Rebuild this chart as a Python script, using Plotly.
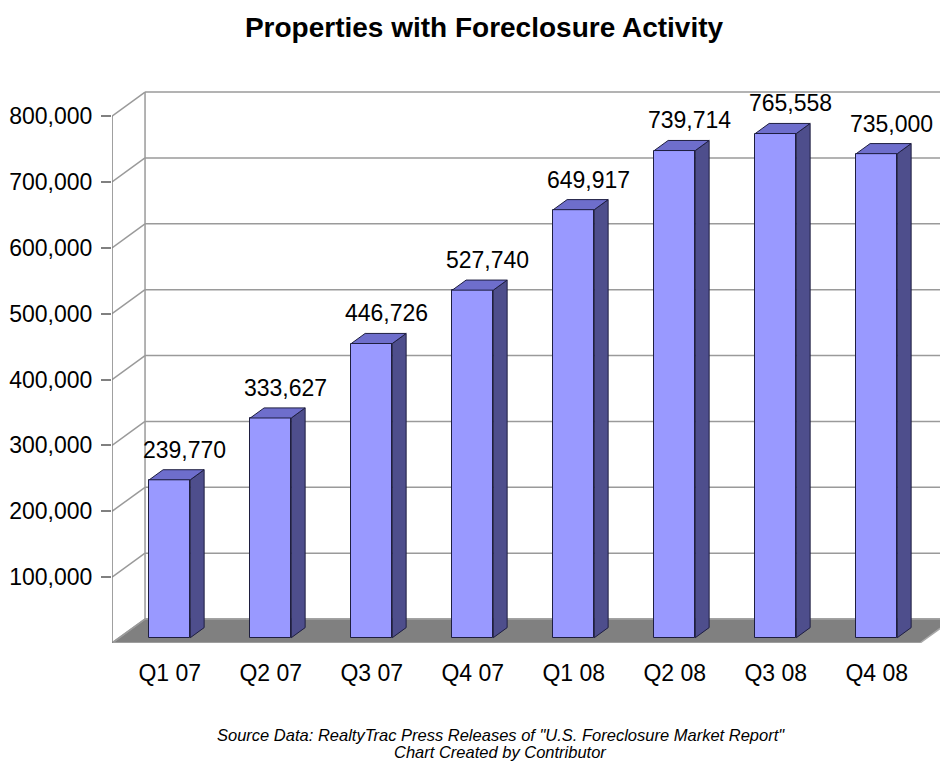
import plotly.graph_objects as go

# ---------------- data ----------------
categories = ["Q1 07", "Q2 07", "Q3 07", "Q4 07", "Q1 08", "Q2 08", "Q3 08", "Q4 08"]
values = [239770, 333627, 446726, 527740, 649917, 739714, 765558, 735000]
value_labels = ["239,770", "333,627", "446,726", "527,740", "649,917", "739,714", "765,558", "735,000"]
ytick_values = [100000, 200000, 300000, 400000, 500000, 600000, 700000, 800000]
ytick_labels = ["100,000", "200,000", "300,000", "400,000", "500,000", "600,000", "700,000", "800,000"]

title_text = "Properties with Foreclosure Activity"
source_line1 = 'Source Data: RealtyTrac Press Releases of "U.S. Foreclosure Market Report"'
source_line2 = "Chart Created by Contributor"

# ---------------- 3D look parameters (style) ----------------
FONT = "Liberation Sans, Arial, sans-serif"
DX = 0.327          # depth offset along x (category units)
DY = 36440          # depth offset along y (value units)
F_FRONT = 0.22      # bar front face depth fraction
F_BACK = 0.64       # bar back face depth fraction
BAR_W = 0.406
X_LEFT = -0.5
X_RIGHT = len(categories) - 0.5
X_MAX = -0.5 + 836 / 101
Y_MAX = 838140
WALL_MAX = ytick_values[-1]

# the page adds an 8px body margin, so the figure is 8px smaller
FIG_W, FIG_H = 940, 755

GRID = "#9a9a9a"
FRONT_C = "#9999FF"
SIDE_C = "#4E4E8C"
TOP_C = "#6E6ECC"
EDGE_C = "#1E1E40"

fig = go.Figure()

shapes = []
# floor
shapes.append(dict(type="path", xref="x", yref="y", layer="below",
                   path=f"M {X_LEFT},0 L {X_RIGHT},0 L {X_RIGHT + DX},{DY} L {X_LEFT + DX},{DY} Z",
                   fillcolor="#808080", line=dict(color="#a8a8a8", width=1.5)))
# back wall gridlines and left wall diagonals
for v in [0] + ytick_values:
    shapes.append(dict(type="line", xref="x", yref="y", layer="below",
                       x0=X_LEFT + DX, x1=X_MAX + 1, y0=v + DY, y1=v + DY,
                       line=dict(color=GRID, width=1.5)))
    shapes.append(dict(type="line", xref="x", yref="y", layer="below",
                       x0=X_LEFT, x1=X_LEFT + DX, y0=v, y1=v + DY,
                       line=dict(color=GRID, width=1.5)))
# back wall left edge
shapes.append(dict(type="line", xref="x", yref="y", layer="below",
                   x0=X_LEFT + DX, x1=X_LEFT + DX, y0=DY, y1=WALL_MAX + DY,
                   line=dict(color=GRID, width=1.5)))
# front value axis line
shapes.append(dict(type="line", xref="x", yref="y", layer="below",
                   x0=X_LEFT, x1=X_LEFT, y0=0, y1=WALL_MAX,
                   line=dict(color="#808080", width=1.5)))

# bars: front faces
base = F_FRONT * DY
xs_front = [i + F_FRONT * DX for i in range(len(categories))]
fig.add_trace(go.Bar(x=xs_front, y=values, base=[base] * len(values), width=BAR_W,
                     marker=dict(color=FRONT_C, line=dict(color=EDGE_C, width=1)),
                     hoverinfo="skip", showlegend=False))

sdx = (F_BACK - F_FRONT) * DX
sdy = (F_BACK - F_FRONT) * DY
for i, v in enumerate(values):
    xl = xs_front[i] - BAR_W / 2
    xr = xs_front[i] + BAR_W / 2
    top = base + v
    # side face
    fig.add_trace(go.Scatter(x=[xr, xr + sdx, xr + sdx, xr, xr],
                             y=[base, base + sdy, top + sdy, top, base],
                             mode="lines", fill="toself", fillcolor=SIDE_C,
                             line=dict(color=EDGE_C, width=1), hoverinfo="skip", showlegend=False))
    # top face
    fig.add_trace(go.Scatter(x=[xl, xr, xr + sdx, xl + sdx, xl],
                             y=[top, top, top + sdy, top + sdy, top],
                             mode="lines", fill="toself", fillcolor=TOP_C,
                             line=dict(color=EDGE_C, width=1), hoverinfo="skip", showlegend=False))

annotations = []
for i, v in enumerate(values):
    annotations.append(dict(x=xs_front[i] + 0.15, y=base + v + sdy, xref="x", yref="y",
                            text=value_labels[i], showarrow=False, yanchor="bottom",
                            yshift=5, font=dict(family=FONT, size=23, color="#000")))

annotations.append(dict(x=0.4653, y=-0.1667, xref="paper", yref="paper", text=f"<i>{source_line1}</i>",
                        showarrow=False, yanchor="middle", font=dict(family=FONT, size=16.5, color="#000")))
annotations.append(dict(x=0.4653, y=-0.1975, xref="paper", yref="paper", text=f"<i>{source_line2}</i>",
                        showarrow=False, yanchor="middle", font=dict(family=FONT, size=16.5, color="#000")))

fig.update_layout(
    width=FIG_W, height=FIG_H,
    margin=dict(l=104, r=0, t=83, b=120, pad=0, autoexpand=False),
    paper_bgcolor="white", plot_bgcolor="white",
    title=dict(text=f"<b>{title_text}</b>", x=476 / FIG_W, xanchor="center", xref="container",
               y=1 - 19 / FIG_H, yanchor="middle", yref="container",
               font=dict(family=FONT, size=28, color="#000")),
    xaxis=dict(range=[X_LEFT, X_MAX], tickvals=xs_front, ticktext=categories,
               showgrid=False, zeroline=False, showline=False, ticks="", automargin=False,
               ticklabelstandoff=14, tickfont=dict(family=FONT, size=23, color="#000")),
    yaxis=dict(range=[0, Y_MAX], tickvals=ytick_values, ticktext=ytick_labels,
               showgrid=False, zeroline=False, showline=False, ticks="outside", automargin=False,
               ticklen=10, tickwidth=1.5, tickcolor="#808080", ticklabelstandoff=4,
               tickfont=dict(family=FONT, size=23, color="#000")),
    shapes=shapes, annotations=annotations, bargap=0,
)

fig.write_html("out.html")
